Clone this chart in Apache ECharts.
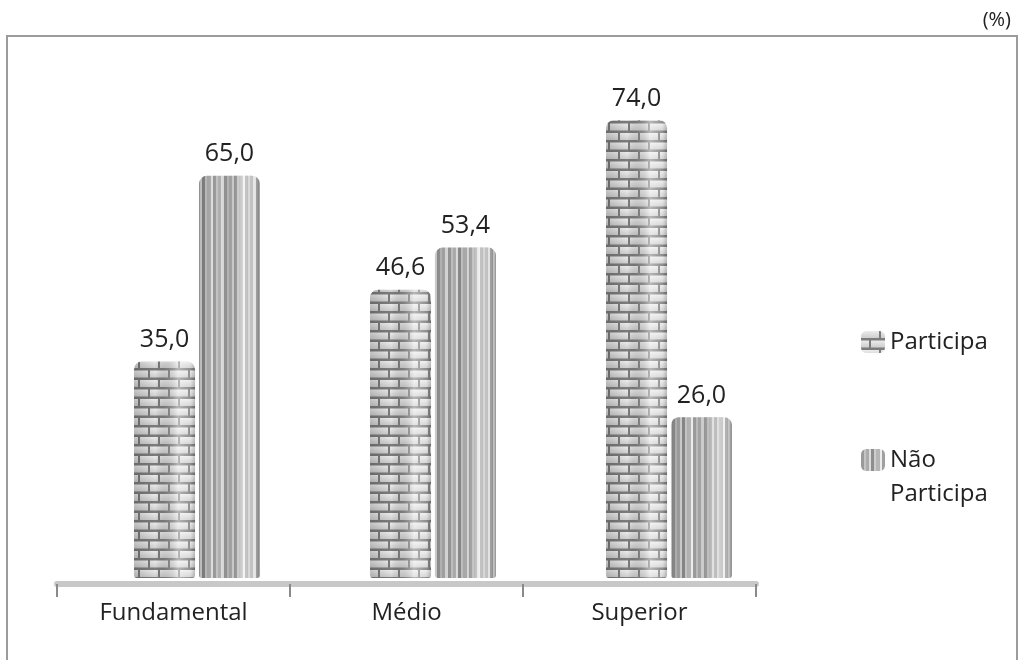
<!DOCTYPE html>
<html>
<head>
<meta charset="utf-8">
<script src="https://cdn.jsdelivr.net/npm/echarts@6/dist/echarts.min.js"></script>
<style>
  html, body { margin: 0; padding: 0; background: #ffffff; }
  #chart { width: 1021px; height: 660px; }
</style>
</head>
<body>
<div id="chart"></div>
<script>
// Participação por nível de escolaridade (%)
const categories = ['Fundamental', 'Médio', 'Superior'];
const participa = [35.0, 46.6, 74.0];
const naoParticipa = [65.0, 53.4, 26.0];
const seriesNames = ['Participa', 'Não Participa'];
const unitLabel = '(%)';

const FONT = '"Open Sans", "DejaVu Sans", sans-serif';

// Brick texture for the "Participa" columns
function brickPattern() {
  const c = document.createElement('canvas');
  c.width = 40; c.height = 19;
  const g = c.getContext('2d');
  g.fillStyle = '#7c7c7c';
  g.fillRect(0, 0, 40, 19);
  function brick(x, y, w, h) {
    const gr = g.createLinearGradient(0, y, 0, y + h);
    gr.addColorStop(0, '#ececec');
    gr.addColorStop(1, '#cdcdcd');
    g.fillStyle = gr;
    g.fillRect(x, y, w, h);
  }
  // row 1
  brick(0, 0, 18, 7);
  brick(20, 0, 18, 7);
  // row 2, offset by half a brick
  brick(-10, 9.5, 18, 7);
  brick(10, 9.5, 18, 7);
  brick(30, 9.5, 18, 7);
  return c;
}

// Vertical fluting texture for the "Não Participa" columns
function stripePattern() {
  const stripes = [
    [3, '#9a9a9a'], [2, '#c4c4c4'], [3, '#acacac'], [2, '#dcdcdc'],
    [3, '#8e8e8e'], [2, '#cdcdcd'], [4, '#b6b6b6'], [2, '#ececec'],
    [3, '#a0a0a0'], [2, '#c8c8c8'], [3, '#b0b0b0'], [3, '#e2e2e2']
  ];
  const c = document.createElement('canvas');
  const w = stripes.reduce((s, d) => s + d[0], 0);
  c.width = w; c.height = 4;
  const g = c.getContext('2d');
  let x = 0;
  stripes.forEach(([sw, col]) => { g.fillStyle = col; g.fillRect(x, 0, sw, 4); x += sw; });
  return c;
}

// Cylindrical shading laid over each column
const shade = new echarts.graphic.LinearGradient(0, 0, 1, 0, [
  { offset: 0, color: 'rgba(0,0,0,0.16)' },
  { offset: 0.35, color: 'rgba(0,0,0,0.0)' },
  { offset: 0.72, color: 'rgba(255,255,255,0.45)' },
  { offset: 0.92, color: 'rgba(255,255,255,0.15)' },
  { offset: 1, color: 'rgba(0,0,0,0.18)' }
]);

const fmt = p => p.value.toFixed(1).replace('.', ',');
const BAR_W = 61;
const BAR_GAP = '6.5%';
const RADIUS = [8, 8, 3, 3];

const valueLabel = {
  show: true, position: 'top', distance: 9, formatter: fmt,
  fontSize: 25, color: '#222', fontFamily: FONT
};

const chart = echarts.init(document.getElementById('chart'), null, { renderer: 'canvas' });

chart.setOption({
  animation: false,
  backgroundColor: '#ffffff',
  title: {
    text: unitLabel, right: 5, top: 5,
    textStyle: { fontSize: 20, fontWeight: 'normal', color: '#222', fontFamily: FONT }
  },
  graphic: [{
    type: 'polyline', silent: true,
    shape: { points: [[7, 660], [7, 36], [1017, 36], [1017, 660]] },
    style: { stroke: '#9c9c9c', lineWidth: 2, fill: null }
  }],
  legend: [
    {
      data: [seriesNames[0]], orient: 'vertical', left: 861, top: 330, padding: 0,
      itemWidth: 24, itemHeight: 22, selectedMode: false,
      textStyle: { fontSize: 24, color: '#222', fontFamily: FONT }
    },
    {
      data: [seriesNames[1]], orient: 'vertical', left: 861, top: 409, padding: 0,
      itemWidth: 24, itemHeight: 22, selectedMode: false,
      formatter: () => '\u00a0\nNão\nParticipa',
      textStyle: { fontSize: 24, lineHeight: 34, color: '#222', fontFamily: FONT }
    }
  ],
  grid: [
    { left: 57, right: 265, top: 83, bottom: 76 },
    { left: 79, width: 708, top: 83, bottom: 82 }
  ],
  xAxis: [
    {
      gridIndex: 0, type: 'category', data: categories,
      axisLine: { lineStyle: { color: '#c8c8c8', width: 6 } },
      axisTick: { show: true, length: 13, lineStyle: { color: '#8a8a8a', width: 2 } },
      axisLabel: { fontSize: 24, color: '#222', margin: 17, fontFamily: FONT }
    },
    { gridIndex: 1, type: 'category', data: categories, show: false },
    { gridIndex: 1, type: 'category', data: categories, show: false }
  ],
  yAxis: [
    { gridIndex: 0, type: 'value', min: 0, max: 80, show: false },
    { gridIndex: 1, type: 'value', min: 0, max: 80, show: false }
  ],
  series: [
    {
      name: seriesNames[0], type: 'bar', xAxisIndex: 1, yAxisIndex: 1,
      data: participa, barWidth: BAR_W, barGap: BAR_GAP,
      itemStyle: { color: { image: brickPattern(), repeat: 'repeat' }, borderRadius: RADIUS },
      label: valueLabel
    },
    {
      name: seriesNames[1], type: 'bar', xAxisIndex: 1, yAxisIndex: 1,
      data: naoParticipa, barWidth: BAR_W, barGap: BAR_GAP,
      itemStyle: { color: { image: stripePattern(), repeat: 'repeat' }, borderRadius: RADIUS },
      label: valueLabel
    },
    {
      name: 'shade-a', type: 'bar', xAxisIndex: 2, yAxisIndex: 1, silent: true, z: 3,
      data: participa, barWidth: BAR_W, barGap: BAR_GAP,
      itemStyle: { color: shade, borderRadius: RADIUS }
    },
    {
      name: 'shade-b', type: 'bar', xAxisIndex: 2, yAxisIndex: 1, silent: true, z: 3,
      data: naoParticipa, barWidth: BAR_W, barGap: BAR_GAP,
      itemStyle: { color: shade, borderRadius: RADIUS }
    }
  ]
});
</script>
</body>
</html>
